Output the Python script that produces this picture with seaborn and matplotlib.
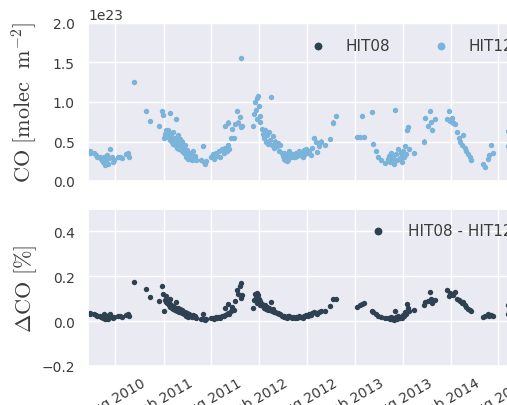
import matplotlib
matplotlib.use("Agg")
import matplotlib.pyplot as plt
import matplotlib.dates as mdates
import seaborn as sns
import pandas as pd

dates = [
    "2010-04-25", "2010-04-28", "2010-05-12", "2010-05-18", "2010-05-25", "2010-06-02", "2010-06-06",
    "2010-06-10", "2010-06-15", "2010-06-18", "2010-06-22", "2010-06-26", "2010-06-30", "2010-07-04",
    "2010-07-09", "2010-07-13", "2010-07-18", "2010-07-22", "2010-07-27", "2010-08-12", "2010-08-20",
    "2010-08-28", "2010-09-12", "2010-09-18", "2010-09-22",
    "2010-10-13", "2010-11-28", "2010-12-12", "2011-01-15", "2011-01-26", "2011-01-29", "2011-02-01",
    "2011-02-05", "2011-02-10", "2011-02-26", "2011-03-20",
    "2011-02-12", "2011-02-15", "2011-02-18", "2011-02-21", "2011-02-24", "2011-02-27", "2011-03-02",
    "2011-03-05", "2011-03-08", "2011-03-11", "2011-03-14", "2011-03-17", "2011-03-21", "2011-03-24",
    "2011-03-27", "2011-03-30", "2011-04-02", "2011-04-05", "2011-04-08", "2011-04-11", "2011-04-14",
    "2011-04-17", "2011-04-21", "2011-04-25", "2011-04-28", "2011-05-02", "2011-05-06", "2011-05-10",
    "2011-05-15", "2011-05-20", "2011-05-25", "2011-06-01", "2011-06-05",
    "2011-06-25", "2011-07-01", "2011-07-04", "2011-07-08", "2011-07-12", "2011-08-02", "2011-08-08",
    "2011-08-14", "2011-08-20", "2011-08-25", "2011-09-01", "2011-09-06", "2011-09-12", "2011-09-18",
    "2011-09-24", "2011-10-01", "2011-10-06", "2011-10-10",
    "2011-09-22", "2011-10-05", "2011-10-15", "2011-10-20", "2011-10-28", "2011-11-02", "2011-11-08",
    "2011-11-12", "2011-11-18", "2011-11-22", "2011-11-24", "2011-11-26",
    "2012-01-10", "2012-01-13", "2012-01-16", "2012-01-19", "2012-01-22", "2012-01-24", "2012-01-27",
    "2012-01-30", "2012-02-02", "2012-02-05", "2012-03-15",
    "2012-02-10", "2012-02-14", "2012-02-18", "2012-02-22", "2012-02-26", "2012-03-01", "2012-03-05",
    "2012-03-09", "2012-03-13", "2012-03-19", "2012-03-23", "2012-03-28", "2012-04-02", "2012-04-07",
    "2012-04-12", "2012-04-17", "2012-04-22", "2012-04-27",
    "2012-05-01", "2012-05-04", "2012-05-07", "2012-05-10", "2012-05-13", "2012-05-16", "2012-05-19",
    "2012-05-22", "2012-05-26",
    "2012-06-05", "2012-06-10", "2012-06-15", "2012-06-20", "2012-06-25", "2012-06-30", "2012-07-05",
    "2012-07-10", "2012-07-15", "2012-07-20", "2012-07-25", "2012-07-30", "2012-08-04", "2012-08-10",
    "2012-08-16", "2012-08-22",
    "2012-08-28", "2012-09-03", "2012-09-10", "2012-09-16", "2012-09-25", "2012-10-08", "2012-10-28",
    "2012-11-08", "2012-11-20",
    "2013-02-08", "2013-02-20", "2013-02-28", "2013-03-08", "2013-04-05",
    "2013-04-08", "2013-04-20", "2013-04-28", "2013-05-10", "2013-05-25",
    "2013-06-05", "2013-06-10", "2013-06-14", "2013-06-18", "2013-06-22", "2013-06-26", "2013-06-30",
    "2013-07-04", "2013-07-08", "2013-07-12", "2013-07-16", "2013-07-20", "2013-07-24", "2013-07-28",
    "2013-08-02", "2013-08-06", "2013-08-10", "2013-08-14", "2013-08-18", "2013-08-22", "2013-08-26",
    "2013-09-12",
    "2013-10-22", "2013-10-26", "2013-11-05", "2013-11-12", "2013-11-18", "2013-11-22", "2013-12-01",
    "2014-01-18", "2014-01-24", "2014-01-29", "2014-02-04", "2014-02-10", "2014-02-16",
    "2014-02-24", "2014-03-03", "2014-03-08", "2014-03-14", "2014-03-20", "2014-03-26", "2014-04-01",
    "2014-04-08", "2014-04-14", "2014-04-20",
    "2014-06-05", "2014-06-12", "2014-06-22", "2014-06-28", "2014-07-05", "2014-07-10",
    "2014-09-05", "2014-09-08", "2014-09-12",
]

# HIT12 total column [1e23 molec m-2]
hit12 = [
    0.38, 0.36, 0.35, 0.33, 0.30, 0.31, 0.28, 0.26, 0.24, 0.30, 0.20, 0.27, 0.33, 0.22, 0.29, 0.41,
    0.30, 0.24, 0.27, 0.30, 0.31, 0.29, 0.34, 0.36, 0.30,
    1.25, 0.89, 0.76, 0.70, 0.88, 0.84, 0.55, 0.60, 0.64, 0.86, 0.78,
    0.62, 0.58, 0.64, 0.55, 0.60, 0.52, 0.57, 0.50, 0.62, 0.47, 0.55, 0.45, 0.52, 0.42, 0.58, 0.48,
    0.40, 0.53, 0.44, 0.38, 0.50, 0.42, 0.35, 0.46, 0.30, 0.39, 0.28, 0.36, 0.33, 0.27, 0.38, 0.32,
    0.26,
    0.26, 0.44, 0.24, 0.22, 0.25, 0.30, 0.34, 0.28, 0.36, 0.32, 0.38, 0.30, 0.40, 0.35, 0.42, 0.38,
    0.45, 0.40,
    0.70, 0.74, 0.54, 0.66, 0.55, 0.72, 0.88, 0.74, 0.81, 0.68, 1.56, 0.70,
    0.70, 0.85, 1.00, 0.90, 1.05, 0.78, 1.08, 0.95, 0.82, 0.75, 1.06,
    0.66, 0.60, 0.55, 0.64, 0.50, 0.58, 0.47, 0.62, 0.52, 0.45, 0.57, 0.42, 0.50, 0.44, 0.48, 0.38,
    0.45, 0.35,
    0.32, 0.28, 0.36, 0.26, 0.30, 0.25, 0.33, 0.27, 0.38,
    0.31, 0.34, 0.30, 0.36, 0.32, 0.38, 0.33, 0.36, 0.31, 0.39, 0.34, 0.40, 0.35, 0.38, 0.33, 0.42,
    0.55, 0.49, 0.37, 0.44, 0.50, 0.45, 0.53, 0.74, 0.82,
    0.56, 0.56, 0.82, 0.56, 0.87,
    0.47, 0.38, 0.30, 0.26, 0.23,
    0.28, 0.32, 0.24, 0.36, 0.26, 0.30, 0.21, 0.90, 0.34, 0.27, 0.40, 0.29, 0.35, 0.24, 0.38, 0.31,
    0.44, 0.34, 0.65, 0.68, 0.40, 0.36,
    0.50, 0.80, 0.70, 0.88, 0.75, 0.65, 0.78,
    0.78, 0.88, 0.76, 0.80, 0.74, 0.72,
    0.62, 0.55, 0.50, 0.46, 0.58, 0.42, 0.38, 0.34, 0.30, 0.27,
    0.22, 0.18, 0.28, 0.33, 0.46, 0.36,
    0.63, 0.44, 0.52,
]

# HIT08 - HIT12 [%]
dco = [
    0.035, 0.032, 0.030, 0.028, 0.025, 0.022, 0.018, 0.020, 0.012, 0.030, 0.008, 0.015, 0.025, 0.010,
    0.028, 0.033, 0.020, 0.012, 0.018, 0.022, 0.025, 0.020, 0.027, 0.030, 0.024,
    0.173, 0.144, 0.107, 0.090, 0.155, 0.120, 0.044, 0.095, 0.110, 0.100, 0.085,
    0.085, 0.080, 0.090, 0.070, 0.075, 0.065, 0.072, 0.060, 0.068, 0.055, 0.062, 0.050, 0.058, 0.045,
    0.060, 0.050, 0.040, 0.052, 0.045, 0.035, 0.048, 0.040, 0.030, 0.040, 0.025, 0.035, 0.020, 0.030,
    0.025, 0.018, 0.028, 0.022, 0.015,
    0.010, 0.030, 0.008, 0.006, 0.010, 0.012, 0.015, 0.010, 0.018, 0.014, 0.020, 0.016, 0.025, 0.022,
    0.028, 0.030, 0.035, 0.032,
    0.060, 0.075, 0.045, 0.065, 0.050, 0.090, 0.140, 0.120, 0.155, 0.105, 0.170, 0.115,
    0.060, 0.095, 0.120, 0.105, 0.125, 0.080, 0.115, 0.100, 0.090, 0.070, 0.085,
    0.075, 0.068, 0.060, 0.072, 0.055, 0.062, 0.050, 0.058, 0.048, 0.045, 0.052, 0.040, 0.042, 0.035,
    0.038, 0.030, 0.032, 0.025,
    0.022, 0.020, 0.025, 0.018, 0.020, 0.016, 0.022, 0.018, 0.024,
    0.015, 0.018, 0.014, 0.020, 0.016, 0.022, 0.018, 0.020, 0.015, 0.025, 0.022, 0.028, 0.025, 0.030,
    0.028, 0.035,
    0.040, 0.038, 0.032, 0.042, 0.045, 0.045, 0.066, 0.100, 0.098,
    0.062, 0.070, 0.075, 0.080, 0.045,
    0.040, 0.030, 0.022, 0.018, 0.015,
    0.012, 0.015, 0.008, 0.020, 0.010, 0.012, 0.005, 0.045, 0.018, 0.010, 0.025, 0.015, 0.020, 0.012,
    0.028, 0.022, 0.040, 0.030, 0.075, 0.060, 0.045, 0.050,
    0.070, 0.085, 0.090, 0.130, 0.100, 0.080, 0.095,
    0.140, 0.110, 0.125, 0.120, 0.115, 0.130,
    0.100, 0.095, 0.090, 0.080, 0.085, 0.070, 0.065, 0.055, 0.050, 0.045,
    0.020, 0.025, 0.030, 0.022, 0.028, 0.025,
    0.070, 0.030, 0.045,
]

df = pd.DataFrame({"date": pd.to_datetime(dates), "HIT12": hit12, "dCO": dco})
df["HIT12"] = df["HIT12"] * 1e23
# HIT08 lies practically on top of HIT12 (difference given in %)
df["HIT08"] = df["HIT12"] * (1 + df["dCO"] / 100)

dark = "#2e4150"
light = "#7ab4da"
txt = "#3a3a3a"

sns.set_theme(style="darkgrid")
plt.rcParams["mathtext.fontset"] = "cm"

fig = plt.figure(figsize=(5.07, 4.06), dpi=100)
W, H = 507.0, 406.0
# axes run past the right edge, the original picture is cut there
ax1 = fig.add_axes([88 / W, (H - 182) / H, 450 / W, 158 / H])
ax2 = fig.add_axes([88 / W, (H - 367) / H, 450 / W, 157 / H])

sns.scatterplot(data=df, x="date", y="HIT08", ax=ax1, color=dark, s=8, linewidth=0, label="HIT08")
sns.scatterplot(data=df, x="date", y="HIT12", ax=ax1, color=light, s=15, linewidth=0, label="HIT12")
sns.scatterplot(data=df, x="date", y="dCO", ax=ax2, color=dark, s=15, linewidth=0, label="HIT08 - HIT12")

xmin, xmax = pd.Timestamp("2010-04-19"), pd.Timestamp("2014-12-30")
for ax in (ax1, ax2):
    ax.set_xlim(xmin, xmax)
    ax.xaxis.set_major_locator(mdates.MonthLocator(bymonth=[2, 8]))
    ax.xaxis.set_major_formatter(mdates.DateFormatter("%b %Y"))
    ax.tick_params(labelsize=10, colors=txt)
    ax.set_xlabel("")

ax1.set_ylim(0, 2e23)
ax1.set_yticks([0, 0.5e23, 1.0e23, 1.5e23, 2.0e23])
ax1.tick_params(labelbottom=False)
ax1.yaxis.get_offset_text().set_fontsize(10)
ax1.yaxis.get_offset_text().set_color(txt)
ax1.set_ylabel(r"$\mathrm{CO\ [molec\ \ m^{-2}]}$", fontsize=16, color=txt)
ax1.yaxis.set_label_coords(-0.108, 0.5)

ax2.set_ylim(-0.2, 0.5)
ax2.set_yticks([-0.2, 0.0, 0.2, 0.4])
ax2.set_ylabel(r"$\Delta\mathrm{CO\ [\%]}$", fontsize=16, color=txt)
ax2.yaxis.set_label_coords(-0.108, 0.5)
ax2.tick_params(axis="x", pad=1)
plt.setp(ax2.get_xticklabels(), rotation=30, ha="center")

leg1 = ax1.legend(loc="center left", bbox_to_anchor=(0.4456, 0.86), ncol=2, fontsize=11,
                  frameon=False, columnspacing=2.35, labelcolor=txt)
leg2 = ax2.legend(loc="center left", bbox_to_anchor=(0.579, 0.86), fontsize=11,
                  frameon=False, handletextpad=1.0, labelcolor=txt)
for leg in (leg1, leg2):
    for h in leg.legend_handles:
        h.set_sizes([32])

fig.savefig("out.png", dpi=100)
